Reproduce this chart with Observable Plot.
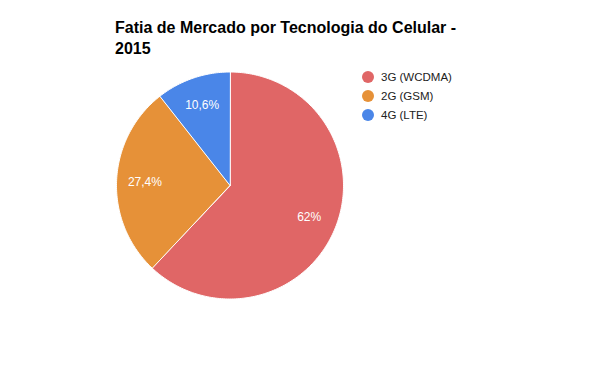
<!DOCTYPE html>
<html>
<head>
<meta charset="utf-8">
<script src="https://cdn.jsdelivr.net/npm/d3@7"></script>
<script src="https://cdn.jsdelivr.net/npm/@observablehq/plot@0.6"></script>
<style>
  body { margin: 0; background: #fff; font-family: "Liberation Sans", Arial, sans-serif; }
  #wrap { position: relative; width: 600px; height: 371px; }
  #title { position: absolute; left: 115px; top: 17px; font-weight: bold; font-size: 16px; line-height: 21px; color: #000; width: 360px; }
  #legend { position: absolute; left: 362px; top: 67px; font-size: 11.5px; color: #222; }
  .li { display: flex; align-items: center; height: 19px; }
  .sw { width: 12px; height: 12px; border-radius: 50%; margin-right: 7px; }
</style>
</head>
<body>
<div id="wrap">
  <div id="chart"></div>
  <div id="title">Fatia de Mercado por Tecnologia do Celular - 2015</div>
  <div id="legend"></div>
</div>
<script>
const categories = ["3G (WCDMA)", "2G (GSM)", "4G (LTE)"];
const values = [62, 27.4, 10.6];
const valueLabels = ["62%", "27,4%", "10,6%"];
const colors = ["#e06666", "#e69138", "#4a86e8"];

const W = 600, H = 371, R = 113.5, CX = 229.5, CY = 185;

// slice polygons from values (clockwise from top)
const total = d3.sum(values);
let acc = 0;
const poly = [];
const labels = [];
categories.forEach((c, i) => {
  const a0 = acc / total * 2 * Math.PI;
  acc += values[i];
  const a1 = acc / total * 2 * Math.PI;
  poly.push({cat: c, x: 0, y: 0});
  const n = Math.max(2, Math.ceil((a1 - a0) / (Math.PI / 180)));
  for (let k = 0; k <= n; k++) {
    const a = a0 + (a1 - a0) * k / n;
    poly.push({cat: c, x: Math.sin(a), y: Math.cos(a)});
  }
  const am = (a0 + a1) / 2;
  labels.push({cat: c, text: valueLabels[i], x: 0.75 * Math.sin(am), y: 0.75 * Math.cos(am)});
});

const chart = Plot.plot({
  width: W, height: H,
  margin: 0,
  x: {domain: [-CX / R, (W - CX) / R], axis: null},
  y: {domain: [-(H - CY) / R, CY / R], axis: null},
  color: {domain: categories, range: colors},
  style: {fontFamily: "'Liberation Sans', Arial, sans-serif"},
  marks: [
    Plot.line(poly, {x: "x", y: "y", z: "cat", fill: "cat", stroke: "#fff", strokeWidth: 1, curve: "linear-closed"}),
    Plot.text(labels, {x: "x", y: "y", text: "text", fill: "#fff", fontSize: 12})
  ]
});
document.getElementById("chart").appendChild(chart);

const lg = document.getElementById("legend");
categories.forEach((c, i) => {
  const row = document.createElement("div");
  row.className = "li";
  row.innerHTML = `<span class="sw" style="background:${colors[i]}"></span><span>${c}</span>`;
  lg.appendChild(row);
});
</script>
</body>
</html>
